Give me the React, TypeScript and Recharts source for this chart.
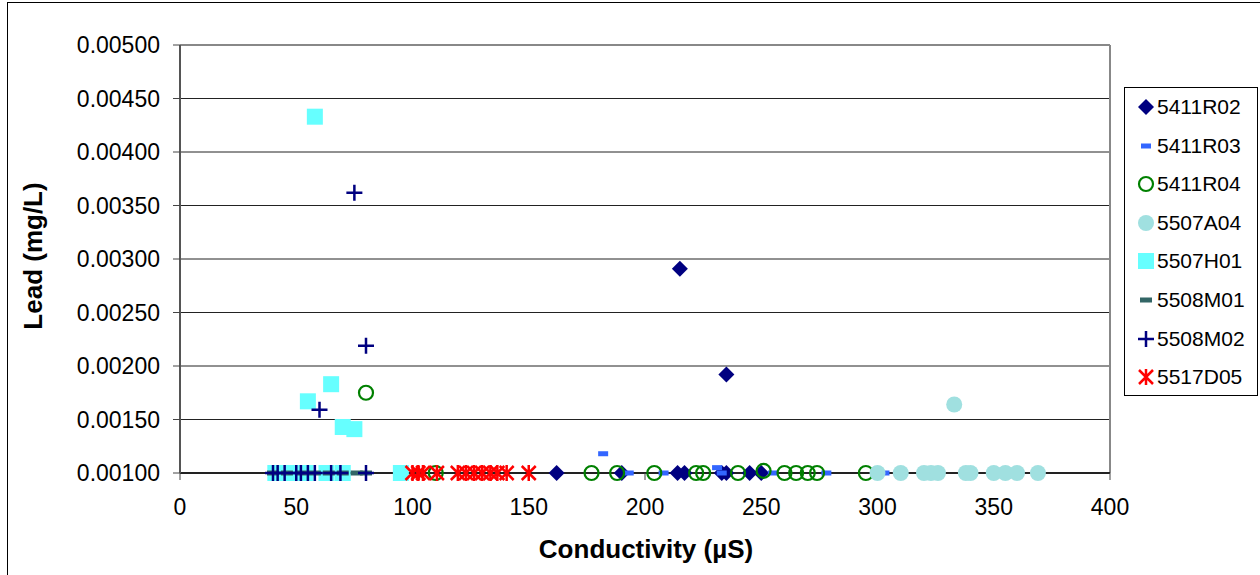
import React from 'react';
import { ScatterChart, Scatter, XAxis, YAxis, CartesianGrid, ReferenceLine } from 'recharts';

const xTicks = [0, 50, 100, 150, 200, 250, 300, 350, 400];
const yTicks = [0.001, 0.0015, 0.002, 0.0025, 0.003, 0.0035, 0.004, 0.0045, 0.005];

const s5411R02 = [
  { x: 215, y: 0.00291 }, { x: 235, y: 0.00192 }, { x: 162, y: 0.001 }, { x: 190, y: 0.001 },
  { x: 214, y: 0.001 }, { x: 217, y: 0.001 }, { x: 233, y: 0.001 }, { x: 235, y: 0.001 },
  { x: 245, y: 0.001 }, { x: 250, y: 0.001 },
];
const s5411R03 = [
  { x: 182, y: 0.00118 }, { x: 193, y: 0.001 }, { x: 208, y: 0.001 }, { x: 231, y: 0.00105 },
  { x: 233, y: 0.001 }, { x: 255, y: 0.001 }, { x: 278, y: 0.001 }, { x: 303, y: 0.001 },
];
const s5411R04 = [
  { x: 80, y: 0.00175 }, { x: 110, y: 0.001 }, { x: 177, y: 0.001 }, { x: 188, y: 0.001 },
  { x: 204, y: 0.001 }, { x: 222, y: 0.001 }, { x: 225, y: 0.001 }, { x: 240, y: 0.001 },
  { x: 251, y: 0.00102 }, { x: 260, y: 0.001 }, { x: 265, y: 0.001 }, { x: 270, y: 0.001 },
  { x: 274, y: 0.001 }, { x: 295, y: 0.001 },
];
const s5507A04 = [
  { x: 333, y: 0.00164 }, { x: 300, y: 0.001 }, { x: 310, y: 0.001 }, { x: 320, y: 0.001 },
  { x: 323, y: 0.001 }, { x: 326, y: 0.001 }, { x: 338, y: 0.001 }, { x: 340, y: 0.001 },
  { x: 350, y: 0.001 }, { x: 355, y: 0.001 }, { x: 360, y: 0.001 }, { x: 369, y: 0.001 },
];
const s5507H01 = [
  { x: 58, y: 0.00433 }, { x: 65, y: 0.00183 }, { x: 55, y: 0.00167 }, { x: 70, y: 0.00143 },
  { x: 75, y: 0.00141 }, { x: 41, y: 0.001 }, { x: 48, y: 0.001 }, { x: 54, y: 0.001 },
  { x: 63, y: 0.001 }, { x: 70, y: 0.001 }, { x: 95, y: 0.001 },
];
const s5508M01 = [
  { x: 40, y: 0.001 }, { x: 46, y: 0.001 }, { x: 52, y: 0.001 }, { x: 58, y: 0.001 },
  { x: 64, y: 0.001 }, { x: 70, y: 0.001 }, { x: 76, y: 0.001 }, { x: 80, y: 0.001 },
];
const s5508M02 = [
  { x: 75, y: 0.00362 }, { x: 80, y: 0.00219 }, { x: 60, y: 0.00159 }, { x: 40, y: 0.001 },
  { x: 42, y: 0.001 }, { x: 45, y: 0.001 }, { x: 50, y: 0.001 }, { x: 52, y: 0.001 },
  { x: 55, y: 0.001 }, { x: 58, y: 0.001 }, { x: 65, y: 0.001 }, { x: 69, y: 0.001 },
  { x: 80, y: 0.001 },
];
const s5517D05 = [
  { x: 100, y: 0.001 }, { x: 102.5, y: 0.001 }, { x: 104.5, y: 0.001 }, { x: 110.5, y: 0.001 },
  { x: 119.5, y: 0.001 }, { x: 123, y: 0.001 }, { x: 126.5, y: 0.001 }, { x: 130, y: 0.001 },
  { x: 133.5, y: 0.001 }, { x: 136.5, y: 0.001 }, { x: 140.5, y: 0.001 }, { x: 150, y: 0.001 },
];

type Kind = 'diamond' | 'dash' | 'ocircle' | 'circle' | 'square' | 'wdash' | 'plus' | 'star';

const series: { name: string; data: { x: number; y: number }[]; kind: Kind; color: string }[] = [
  { name: '5411R02', data: s5411R02, kind: 'diamond', color: '#000080' },
  { name: '5411R03', data: s5411R03, kind: 'dash', color: '#3366FF' },
  { name: '5411R04', data: s5411R04, kind: 'ocircle', color: '#008000' },
  { name: '5507A04', data: s5507A04, kind: 'circle', color: '#A0E0E0' },
  { name: '5507H01', data: s5507H01, kind: 'square', color: '#66FFFF' },
  { name: '5508M01', data: s5508M01, kind: 'wdash', color: '#336666' },
  { name: '5508M02', data: s5508M02, kind: 'plus', color: '#000080' },
  { name: '5517D05', data: s5517D05, kind: 'star', color: '#FF0000' },
];

function marker(kind: Kind, color: string, cx: number, cy: number) {
  switch (kind) {
    case 'diamond':
      return <polygon points={`${cx},${cy - 8} ${cx + 8},${cy} ${cx},${cy + 8} ${cx - 8},${cy}`} fill={color} />;
    case 'dash':
      return <rect x={cx - 5} y={cy - 2.5} width={10} height={5} fill={color} />;
    case 'ocircle':
      return <circle cx={cx} cy={cy} r={7} fill="none" stroke={color} strokeWidth={2.2} />;
    case 'circle':
      return <circle cx={cx} cy={cy} r={8} fill={color} />;
    case 'square':
      return <rect x={cx - 8} y={cy - 8} width={16} height={16} fill={color} />;
    case 'wdash':
      return <rect x={cx - 6} y={cy - 2.5} width={12} height={5} fill={color} />;
    case 'plus':
      return (
        <path d={`M${cx - 8},${cy}H${cx + 8}M${cx},${cy - 8}V${cy + 8}`} stroke={color} strokeWidth={2.5} fill="none" />
      );
    case 'star':
      return (
        <path
          d={`M${cx - 7},${cy - 7}L${cx + 7},${cy + 7}M${cx - 7},${cy + 7}L${cx + 7},${cy - 7}M${cx},${cy - 8}V${cy + 8}`}
          stroke={color}
          strokeWidth={2.5}
          fill="none"
        />
      );
  }
  return null;
}

const FONT = '"Liberation Sans", Arial, sans-serif';

export default function App() {
  return (
    <div style={{ position: 'fixed', left: 0, top: 0, width: 1260, height: 575, overflow: 'hidden', background: '#fff', fontFamily: FONT }}>
      <div style={{ position: 'absolute', left: 7, top: 2, width: 1280, height: 600, border: '1px solid #000' }} />
      <div style={{ position: 'absolute', left: 0, top: 0 }}>
        <ScatterChart width={1260} height={575} margin={{ top: 45, right: 150, bottom: 42, left: 10 }}>
          <CartesianGrid horizontal vertical={false} stroke="#222" strokeWidth={1} />
          <ReferenceLine y={0.005} stroke="#888" strokeWidth={2} />
          <ReferenceLine x={400} stroke="#888" strokeWidth={2} />
          <XAxis
            type="number"
            dataKey="x"
            domain={[0, 400]}
            ticks={xTicks}
            height={60}
            tickSize={7}
            tickMargin={19}
            axisLine={{ stroke: '#222', strokeWidth: 2 }}
            tickLine={{ stroke: '#444' }}
            tick={{ fill: '#000', fontSize: 23, fontFamily: FONT }}
            interval={0}
          />
          <YAxis
            type="number"
            dataKey="y"
            domain={[0.001, 0.005]}
            ticks={yTicks}
            width={170}
            tickSize={7}
            tickMargin={13}
            tickFormatter={(v: number) => v.toFixed(5)}
            axisLine={{ stroke: '#555', strokeWidth: 2 }}
            tickLine={{ stroke: '#444' }}
            tick={{ fill: '#000', fontSize: 23, fontFamily: FONT }}
            interval={0}
          />
          {series.map((s) => (
            <Scatter
              key={s.name}
              name={s.name}
              data={s.data}
              isAnimationActive={false}
              shape={(p: any) => marker(s.kind, s.color, p.cx, p.cy)}
            />
          ))}
        </ScatterChart>
      </div>
      <div
        style={{
          position: 'absolute', left: 646, top: 534, transform: 'translateX(-50%)', whiteSpace: 'nowrap',
          fontWeight: 'bold', fontSize: 26, color: '#000',
        }}
      >
        Conductivity (µS)
      </div>
      <div
        style={{
          position: 'absolute', left: 33, top: 256, transform: 'translate(-50%, -50%) rotate(-90deg)', whiteSpace: 'nowrap',
          fontWeight: 'bold', fontSize: 26, color: '#000',
        }}
      >
        Lead (mg/L)
      </div>
      <div
        style={{
          position: 'absolute', left: 1124, top: 87, width: 132, height: 307, border: '1px solid #000', background: '#fff',
        }}
      >
        {series.map((s, i) => (
          <div key={s.name} style={{ position: 'absolute', left: 0, top: 7 + i * 38.6, height: 24, display: 'flex', alignItems: 'center' }}>
            <svg width={32} height={24} style={{ display: 'block' }}>
              {marker(s.kind, s.color, 21, 12)}
            </svg>
            <span style={{ fontSize: 21, color: '#000', lineHeight: '24px' }}>{s.name}</span>
          </div>
        ))}
      </div>
    </div>
  );
}
